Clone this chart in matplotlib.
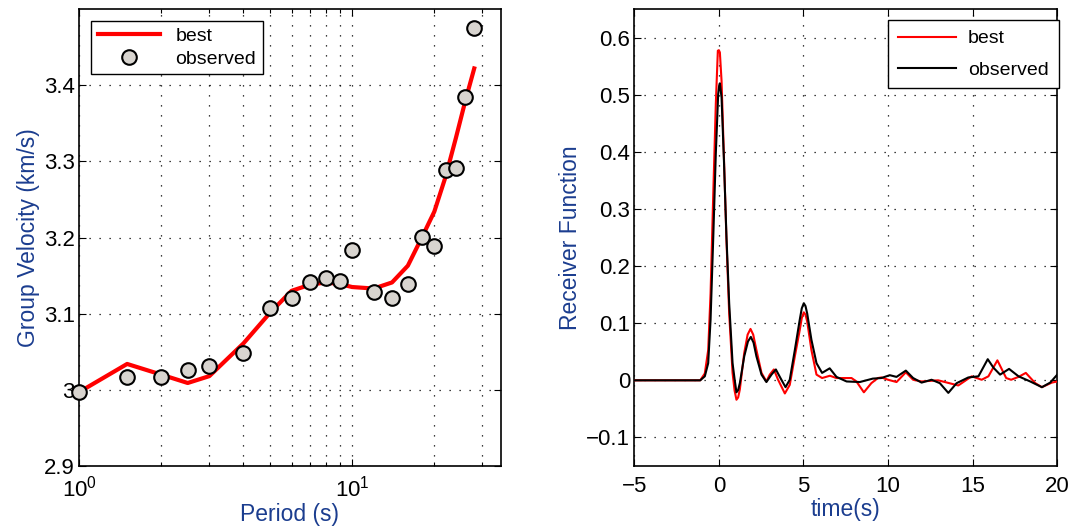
import matplotlib
matplotlib.use("Agg")
import matplotlib.pyplot as plt
from matplotlib.ticker import FixedLocator, NullFormatter, FuncFormatter

plt.rcParams['font.family'] = ['Liberation Sans', 'DejaVu Sans']

# ---------------- data: dispersion ----------------
periods = [1, 1.5, 2, 2.5, 3, 4, 5, 6, 7, 8, 9, 10, 12, 14, 16, 18, 20, 22, 24, 26, 28]
observed_vel = [2.997, 3.017, 3.017, 3.026, 3.031, 3.048, 3.107, 3.120, 3.142, 3.147,
                3.143, 3.183, 3.129, 3.121, 3.139, 3.201, 3.189, 3.289, 3.291, 3.385, 3.475]
best_vel = [2.997, 3.034, 3.020, 3.009, 3.018, 3.061, 3.101, 3.130, 3.138, 3.141,
            3.139, 3.135, 3.133, 3.141, 3.163, 3.200, 3.234, 3.280, 3.331, 3.380, 3.422]

# ---------------- data: receiver function ----------------
obs_t = [-5, -1.1, -0.83, -0.63, -0.49, -0.33, -0.18, -0.04, 0.02, 0.06, 0.16, 0.30, 0.45,
         0.61, 0.81, 0.93, 1.04, 1.14, 1.24, 1.50, 1.72, 1.89, 2.05, 2.22, 2.52, 2.81,
         3.11, 3.37, 3.64, 3.94, 4.19, 4.49, 4.78, 4.90, 5.02, 5.12, 5.22, 5.47, 5.77,
         6.10, 6.55, 6.95, 7.55, 8.33, 9.10, 9.60, 10.1, 10.5, 11.05, 11.48, 11.98, 12.57,
         13.06, 13.56, 14.05, 14.74, 15.34, 15.89, 16.23, 16.62, 17.15, 17.71, 18.40,
         19.09, 19.58, 20.0]
obs_rf = [0, 0, 0.007, 0.030, 0.106, 0.251, 0.397, 0.501, 0.516, 0.520, 0.495, 0.385, 0.251,
          0.135, 0.030, 0.002, -0.021, -0.017, -0.005, 0.042, 0.068, 0.076, 0.066, 0.042,
          0.010, -0.003, 0.010, 0.019, 0.004, -0.012, 0.001, 0.053, 0.106, 0.126, 0.135,
          0.130, 0.117, 0.071, 0.030, 0.013, 0.021, 0.006, -0.002, -0.003, 0.003, 0.004,
          0.009, 0.006, 0.017, 0.004, -0.004, 0.001, -0.005, -0.022, -0.005, 0.005, 0.007,
          0.037, 0.022, 0.010, 0.020, 0.007, -0.002, -0.012, -0.004, 0.010]

best_t = [-5, -1.1, -0.83, -0.63, -0.49, -0.33, -0.18, -0.06, 0.0, 0.06, 0.16, 0.30, 0.45,
          0.61, 0.81, 0.93, 1.04, 1.14, 1.24, 1.50, 1.70, 1.87, 2.03, 2.22, 2.52, 2.81,
          3.01, 3.25, 3.50, 3.90, 4.19, 4.49, 4.78, 4.90, 5.02, 5.12, 5.22, 5.47, 5.77,
          6.10, 6.56, 6.95, 7.84, 8.13, 8.57, 9.01, 9.40, 9.60, 10.0, 10.5, 11.05, 11.48,
          11.98, 12.96, 14.15, 14.94, 15.53, 15.93, 16.46, 16.98, 17.27, 17.71, 18.14,
          18.70, 19.09, 19.68, 20.0]
best_rf = [0, 0, 0.012, 0.053, 0.152, 0.327, 0.484, 0.577, 0.578, 0.574, 0.524, 0.391, 0.245,
           0.117, 0.013, -0.018, -0.034, -0.030, -0.016, 0.048, 0.080, 0.090, 0.080, 0.053,
           0.013, -0.002, 0.010, 0.019, 0.001, -0.023, -0.008, 0.042, 0.088, 0.109, 0.119,
           0.115, 0.103, 0.053, 0.010, 0.004, 0.008, 0.004, 0.004, -0.002, -0.021, -0.005,
           0.004, 0.005, 0.001, -0.003, 0.014, 0.001, -0.002, 0.000, -0.009, 0.007, 0.001,
           0.007, 0.035, 0.004, 0.001, 0.006, 0.013, -0.005, -0.012, -0.004, -0.002]

vel_ticks = [2.9, 3.0, 3.1, 3.2, 3.3, 3.4]
rf_yticks = [-0.1, 0, 0.1, 0.2, 0.3, 0.4, 0.5, 0.6]
rf_xticks = [-5, 0, 5, 10, 15, 20]

label_color = '#1b3d8f'
grid_kw = dict(color='black', linestyle=(0, (1, 7)), linewidth=0.9)
TFS = 16
LFS = 16.5

fig = plt.figure(figsize=(10.71, 5.31), dpi=100)
ax1 = fig.add_axes([0.0738, 0.1224, 0.3937, 0.8606])
ax2 = fig.add_axes([0.5922, 0.1224, 0.3950, 0.8606])


def matlab_num(v, pos=None):
    s = ('%g' % round(v, 6))
    if s.startswith('-'):
        s = '\u2212' + s[1:]
    return s


# ---------------- left panel ----------------
ax1.set_xscale('log')
ax1.plot(periods, best_vel, color='red', linewidth=3.0, label='best', zorder=3)
ax1.plot(periods, observed_vel, linestyle='none', marker='o', markersize=10.5,
         markerfacecolor='#d8d4cf', markeredgecolor='black', markeredgewidth=1.5,
         label='observed', zorder=4, clip_on=False)
ax1.set_xlim(1, 35)
ax1.set_ylim(2.9, 3.5)
ax1.yaxis.set_major_locator(FixedLocator(vel_ticks))
ax1.yaxis.set_major_formatter(FuncFormatter(matlab_num))
ax1.xaxis.set_minor_formatter(NullFormatter())
ax1.grid(True, which='major', **grid_kw)
ax1.grid(True, which='minor', axis='x', **grid_kw)
ax1.set_xlabel('Period (s)', color=label_color, fontsize=LFS, labelpad=1)
ax1.set_ylabel('Group Velocity (km/s)', color=label_color, fontsize=LFS, labelpad=3)
leg1 = ax1.legend(loc='upper left', fontsize=14, frameon=True, fancybox=False,
                  edgecolor='black', framealpha=1, handlelength=3.2, borderaxespad=0.6,
                  borderpad=0.35, labelspacing=0.25, handletextpad=0.8)
leg1.get_frame().set_linewidth(1.0)

# ---------------- right panel ----------------
ax2.plot(best_t, best_rf, color='red', linewidth=1.5, label='best', zorder=3)
ax2.plot(obs_t, obs_rf, color='black', linewidth=1.5, label='observed', zorder=4)
ax2.set_xlim(-5, 20)
ax2.set_ylim(-0.15, 0.65)
ax2.xaxis.set_major_locator(FixedLocator(rf_xticks))
ax2.yaxis.set_major_locator(FixedLocator(rf_yticks))
ax2.xaxis.set_major_formatter(FuncFormatter(matlab_num))
ax2.yaxis.set_major_formatter(FuncFormatter(matlab_num))
ax2.grid(True, which='major', **grid_kw)
ax2.set_xlabel('time(s)', color=label_color, fontsize=LFS, labelpad=1)
ax2.set_ylabel('Receiver Function', color=label_color, fontsize=LFS, labelpad=3)
leg2 = ax2.legend(loc='upper right', bbox_to_anchor=(1.003, 0.976), fontsize=14,
                  frameon=True, fancybox=False, edgecolor='black', framealpha=1,
                  handlelength=3.0, borderaxespad=0.0, borderpad=0.5, labelspacing=0.7,
                  handletextpad=0.6)
leg2.get_frame().set_linewidth(1.0)

for ax in (ax1, ax2):
    ax.tick_params(which='both', direction='in', top=True, right=True,
                   labelsize=TFS, colors='black', length=5, width=0.8)
    ax.tick_params(which='minor', length=3)
    ax.tick_params(axis='x', which='major', pad=7)
    ax.tick_params(axis='y', which='major', pad=3)
    for sp in ax.spines.values():
        sp.set_linewidth(1.2)
        sp.set_color('black')

fig.savefig('out.png', dpi=100)
